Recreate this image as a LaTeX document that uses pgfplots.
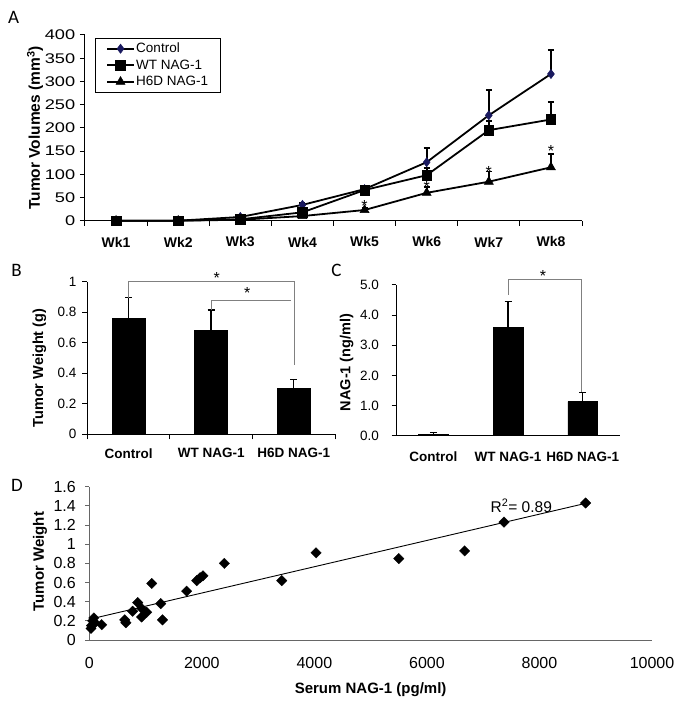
\documentclass[border=0pt]{standalone}
\usepackage{fontspec}
\setmainfont{Liberation Sans}
\newfontfamily\carlito{Carlito}
\usepackage{pgfplots}
\pgfplotsset{compat=1.18}
\definecolor{navy}{RGB}{25,25,95}
\newcommand{\fs}[1]{\fontsize{#1}{#1}\selectfont}
\begin{document}
\begin{tikzpicture}
\useasboundingbox (0,0) rectangle (681pt,706pt);
\pgfplotsset{
 every axis/.append style={
  scale only axis,
  /pgf/number format/assume math mode=true,
  axis x line*=bottom, axis y line*=left,
  tick align=outside,
  clip=false,
  axis line style={black, line width=1pt},
  every tick/.style={black, line width=1pt},
  major tick length=5pt,
  xticklabel style={inner sep=0pt, anchor=center},
  yticklabel style={inner sep=0pt, anchor=east},
 },
}
% panel letters
\node[font=\carlito\fs{19}] at (13.5pt,689pt) {A};
\node[font=\carlito\fs{19}] at (16.5pt,435.5pt) {B};
\node[font=\carlito\fs{19}] at (336.5pt,436pt) {C};
\node[font=\carlito\fs{19}] at (17pt,221pt) {D};

% ---------------- Panel A
\begin{axis}[
 at={(85pt,485.3pt)}, anchor=south west,
 width=497pt, height=185.7pt,
 xmin=0.5, xmax=8.5, ymin=0, ymax=400,
 xtick={0.5,1.5,...,8.5}, xticklabels={},
 extra x ticks={1,2,3,4,5,6,7,8},
 extra x tick labels={Wk1,Wk2,Wk3,Wk4,Wk5,Wk6,Wk7,Wk8},
 extra x tick style={major tick length=0pt},
 ytick={0,50,...,400},
 xticklabel style={font=\bfseries\fs{14}, yshift=-21.3pt},
 yticklabel style={font=\fs{14}, xscale=1.3, xshift=-3.5pt},
 ylabel={Tumor Volumes (mm\textsuperscript{3})},
 ylabel style={font=\bfseries\fs{15.5}, at={(axis description cs:-0.1006,0.5)}, anchor=center},
 legend style={at={(axis description cs:0.02,0.9855)}, anchor=north west,
   draw=black, line width=0.8pt, fill=white, font=\fs{13.5},
   inner xsep=11pt, inner ysep=3pt, row sep=1.5pt, legend cell align=left,
   nodes={inner xsep=1.5pt}},
 legend image code/.code={%
   \draw[mark repeat=2,mark phase=2,#1] plot coordinates {(0pt,0pt) (13.3pt,0pt) (26.6pt,0pt)};},
]
\addplot[black, line width=1.8pt, mark=diamond*, mark size=4.6pt, mark options={line width=0.5pt, draw=navy, fill=navy},
 error bars/.cd, y dir=plus, y explicit,
 error bar style={black, line width=1.8pt}, error mark options={rotate=90, black, line width=1.8pt, mark size=3pt}]
 coordinates {(1,0) (2,0) (3,8) (4,34) +- (0,4) (5,68) (6,126) +- (0,30) (7,227) +- (0,55) (8,316) +- (0,52)};
\addlegendentry{Control}
\addplot[black, line width=1.8pt, mark=square*, mark size=4.8pt, mark options={line width=0.5pt},
 error bars/.cd, y dir=plus, y explicit,
 error bar style={black, line width=1.8pt}, error mark options={rotate=90, black, line width=1.8pt, mark size=3pt}]
 coordinates {(1,0) (2,0) (3,3) (4,18) (5,66) (6,98) +- (0,15) (7,195) +- (0,20) (8,218) +- (0,37)};
\addlegendentry{WT NAG-1}
\addplot[black, line width=1.8pt, mark=triangle*, mark size=5.2pt, mark options={line width=0.5pt},
 error bars/.cd, y dir=plus, y explicit,
 error bar style={black, line width=1.8pt}, error mark options={rotate=90, black, line width=1.8pt, mark size=3pt}]
 coordinates {(1,0) (2,0) (3,2) (4,10) (5,23) +- (0,5) (6,60) +- (0,12) (7,84) +- (0,22) (8,115) +- (0,29)};
\addlegendentry{H6D NAG-1}
\node[font=\fs{16}, anchor=base, inner sep=0pt, yshift=-9pt] at (axis cs:5,40) {*};
\node[font=\fs{16}, anchor=base, inner sep=0pt, yshift=-9pt] at (axis cs:6,80) {*};
\node[font=\fs{16}, anchor=base, inner sep=0pt, yshift=-9pt] at (axis cs:7,113) {*};
\node[font=\fs{16}, anchor=base, inner sep=0pt, yshift=-9pt] at (axis cs:8,157) {*};
\end{axis}

% ---------------- Panel B
\begin{axis}[
 at={(87.3pt,271.7pt)}, anchor=south west,
 width=247.7pt, height=152.6pt,
 xmin=-0.5, xmax=2.5, ymin=0, ymax=1,
 xtick={-0.5,0.5,1.5,2.5}, xticklabels={},
 extra x ticks={0,1,2},
 extra x tick labels={Control,WT NAG-1,H6D NAG-1},
 extra x tick style={major tick length=0pt},
 ytick={0,0.2,0.4,0.6,0.8,1},
 yticklabels={0,0.2,0.4,0.6,0.8,1},
 xticklabel style={font=\bfseries\fs{13.5}, yshift=-19pt},
 yticklabel style={font=\fs{13.5}, xshift=-5.6pt},
 ylabel={Tumor Weight (g)},
 ylabel style={font=\bfseries\fs{14.5}, at={(axis description cs:-0.1938,0.434)}, anchor=center},
]
\addplot[ybar, bar width=33pt, fill=black, draw=black,
 error bars/.cd, y dir=plus, y explicit,
 error bar style={black, line width=1.4pt}, error mark options={rotate=90, black, line width=1.4pt, mark size=3.5pt}]
 coordinates {(0,0.76) +- (0,0.135) (1,0.683) +- (0,0.132) (2,0.30) +- (0,0.06)};
\addplot[gray, line width=1pt, mark=none] coordinates {(0,0.895) (0,1.0) (2.006,1.0) (2.006,0.454)};
\addplot[gray, line width=1pt, mark=none] coordinates {(1,0.815) (1,0.88) (1.962,0.88)};
\node[font=\fs{16}, anchor=base, inner sep=0pt, yshift=-9pt] at (axis cs:1.067,1.044) {*};
\node[font=\fs{16}, anchor=base, inner sep=0pt, yshift=-9pt] at (axis cs:1.437,0.946) {*};
\end{axis}

% ---------------- Panel C
\begin{axis}[
 at={(396pt,270.3pt)}, anchor=south west,
 width=224pt, height=150.7pt,
 xmin=-0.5, xmax=2.5, ymin=0, ymax=5,
 xtick=\empty,
 extra x ticks={0,1,2},
 extra x tick labels={Control,WT NAG-1,H6D NAG-1},
 extra x tick style={major tick length=0pt},
 ytick={0,1,2,3,4,5},
 yticklabels={0.0,1.0,2.0,3.0,4.0,5.0},
 major tick length=4.3pt,
 xticklabel style={font=\bfseries\fs{13.5}, yshift=-21pt},
 yticklabel style={font=\fs{13.5}, xshift=-12.5pt},
 ylabel={NAG-1 (ng/ml)},
 ylabel style={font=\bfseries\fs{14.5}, at={(axis description cs:-0.220,0.486)}, anchor=center},
]
\addplot[ybar, bar width=29.5pt, fill=black, draw=black,
 error bars/.cd, y dir=plus, y explicit,
 error bar style={black, line width=1.2pt}, error mark options={rotate=90, black, line width=1.2pt, mark size=3.5pt}]
 coordinates {(0,0.05) +- (0,0.05) (1,3.60) +- (0,0.85) (2,1.13) +- (0,0.30)};
\addplot[gray, line width=1pt, mark=none] coordinates {(1,4.67) (1,5.17) (1.99,5.17) (1.99,1.46)};
\node[font=\fs{16}, anchor=base, inner sep=0pt, yshift=-9pt] at (axis cs:1.469,5.40) {*};
\end{axis}

% ---------------- Panel D
\begin{axis}[
 at={(89.3pt,66pt)}, anchor=south west,
 width=562.7pt, height=153.3pt,
 xmin=0, xmax=10000, ymin=0, ymax=1.6,
 xtick=\empty,
 extra x ticks={0,2000,4000,6000,8000,10000},
 extra x tick labels={0,2000,4000,6000,8000,10000},
 extra x tick style={major tick length=0pt},
 ytick={0,0.2,0.4,0.6,0.8,1,1.2,1.4,1.6},
 yticklabels={0,0.2,0.4,0.6,0.8,1,1.2,1.4,1.6},
 axis line style={black!60, line width=0.8pt},
 every tick/.style={black!60, line width=0.8pt},
 major tick length=4pt,
 xticklabel style={font=\fs{16}, yshift=-23pt},
 yticklabel style={font=\fs{16}, xshift=-9.3pt},
 ylabel={Tumor Weight},
 ylabel style={font=\bfseries\fs{15}, at={(axis description cs:-0.0876,0.511)}, anchor=center},
 xlabel={Serum NAG-1 (pg/ml)},
 xlabel style={font=\bfseries\fs{15}, at={(axis description cs:0.5,-0.326)}, anchor=center},
]
\addplot[black, line width=0.9pt, mark=none] coordinates {(0,0.216) (8820,1.426)};
\addplot[only marks, mark=square*, mark size=3.7pt, mark options={rotate=45, fill=black, draw=black, line width=0.3pt}]
 coordinates {
 (30,0.12) (40,0.15) (60,0.20) (80,0.23) (100,0.18) (220,0.16)
 (630,0.21) (650,0.18) (770,0.30) (860,0.39) (930,0.24) (930,0.33)
 (1020,0.29) (1110,0.59) (1270,0.38) (1300,0.21) (1730,0.51) (1910,0.62)
 (1970,0.65) (2020,0.67) (2400,0.80) (3420,0.62) (4030,0.91) (5500,0.85)
 (6670,0.93) (7370,1.23) (8820,1.43)};
\node[font=\fs{15.5}, anchor=center, inner sep=0pt] at (axis cs:7677,1.40) {R\textsuperscript{2}= 0.89};
\end{axis}
\end{tikzpicture}
\end{document}
